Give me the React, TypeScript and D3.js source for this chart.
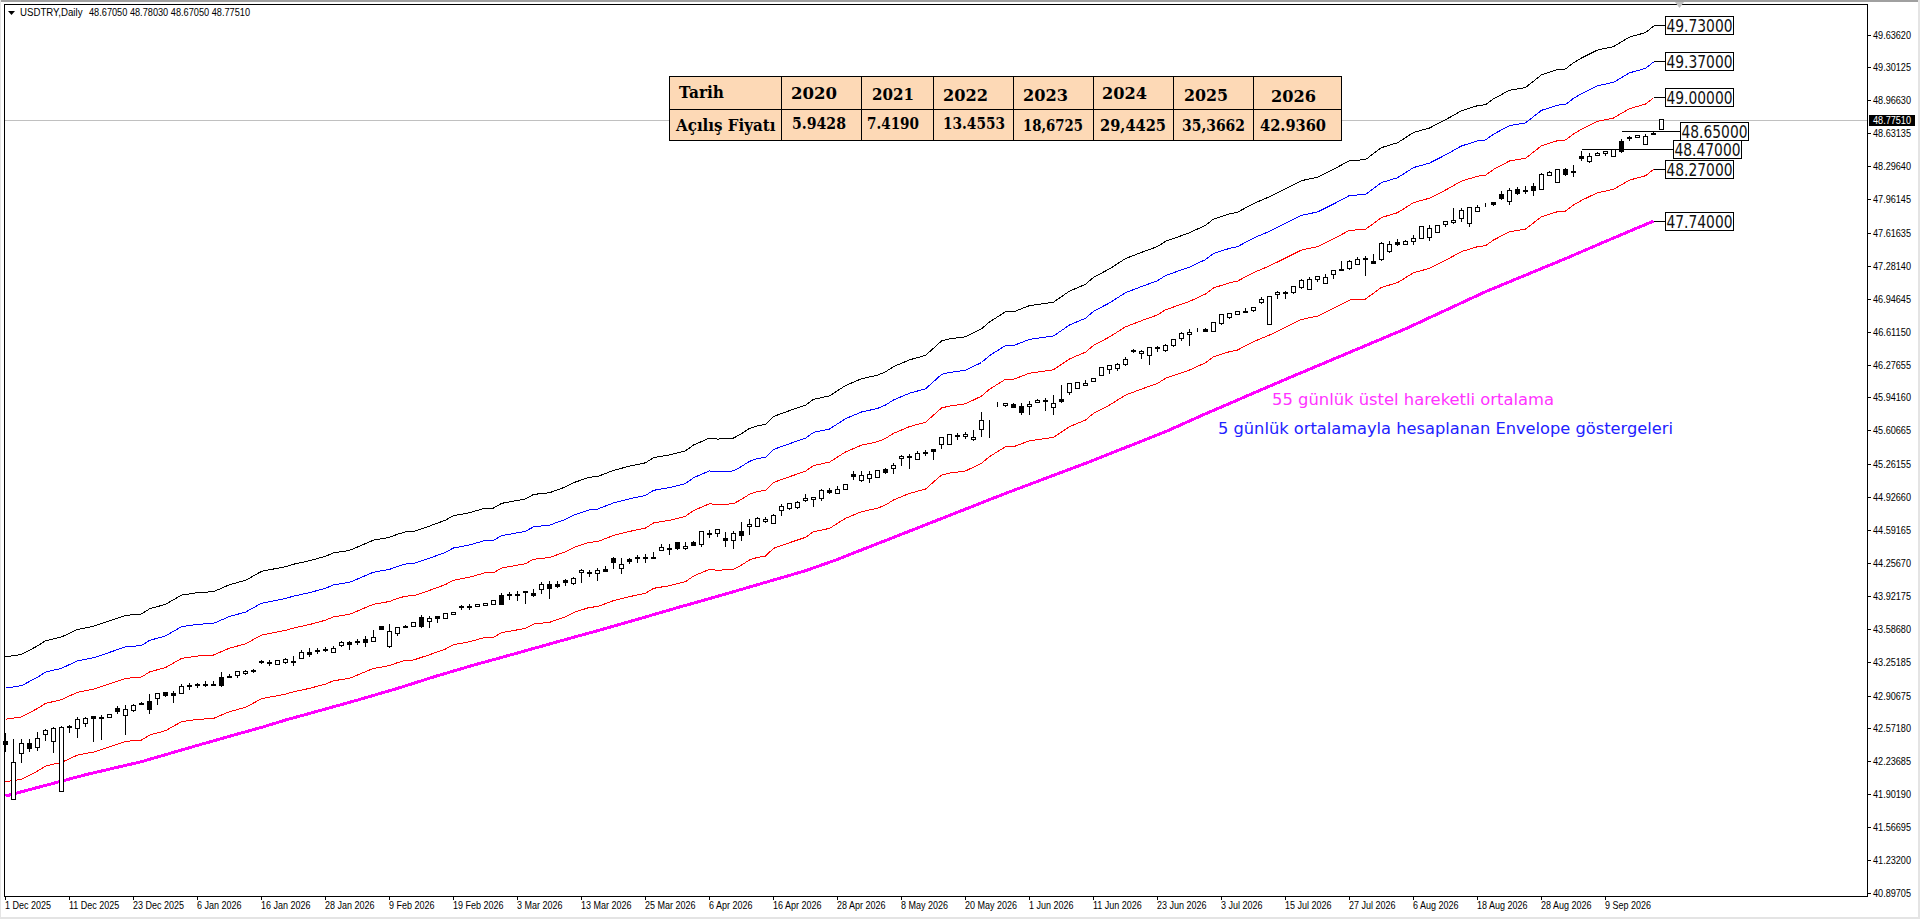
import React from "react";
import * as d3 from "d3";

const opens = [42.44,41.857,42.325,42.423,42.385,42.514,42.446,41.938,42.602,42.579,
42.629,42.694,42.684,42.69,42.782,42.711,42.762,42.833,42.853,42.88,
42.941,42.935,42.935,43.016,43.023,43.026,43.026,43.097,43.111,43.118,
43.135,43.165,43.26,43.25,43.229,43.25,43.257,43.291,43.352,43.375,
43.385,43.352,43.419,43.45,43.467,43.481,43.46,43.61,43.416,43.542,
43.62,43.613,43.708,43.664,43.715,43.698,43.739,43.82,43.823,43.82,
43.83,43.837,43.932,43.939,43.942,43.969,43.952,43.993,44.044,44.047,
44.081,44.054,44.166,44.16,44.156,44.193,44.309,44.204,44.292,44.322,
44.322,44.322,44.39,44.41,44.465,44.407,44.475,44.448,44.563,44.56,
44.512,44.492,44.577,44.634,44.634,44.682,44.665,44.794,44.814,44.831,
44.896,44.909,44.913,45.004,44.97,45.011,45.167,45.099,45.126,45.133,
45.218,45.225,45.327,45.35,45.316,45.388,45.415,45.466,45.469,45.564,
45.551,45.52,45.622,45.666,45.859,45.866,45.876,45.856,45.856,45.9,
45.92,45.842,45.927,45.995,46.039,46.07,46.11,46.168,46.229,46.243,
46.28,46.426,46.395,46.372,46.456,46.429,46.473,46.548,46.585,46.623,
46.636,46.619,46.701,46.765,46.792,46.819,46.83,46.914,46.691,46.993,
47.016,47.013,47.067,47.047,47.149,47.108,47.196,47.25,47.261,47.301,
47.359,47.332,47.352,47.43,47.522,47.505,47.535,47.566,47.576,47.627,
47.705,47.725,47.766,47.719,47.841,47.895,47.936,48.017,47.939,48.068,
48.054,48.095,48.065,48.207,48.136,48.268,48.251,48.404,48.346,48.41,
48.427,48.4,48.553,48.597,48.594,48.523,48.634,48.6705];

const highs = [42.538,42.477,42.477,42.477,42.551,42.578,42.602,42.612,42.619,42.697,
42.697,42.711,42.724,42.731,42.813,42.826,42.833,42.853,42.928,42.935,
42.945,42.965,43.036,43.043,43.05,43.063,43.07,43.162,43.138,43.172,
43.179,43.189,43.28,43.274,43.28,43.301,43.318,43.382,43.406,43.402,
43.413,43.419,43.477,43.474,43.49,43.528,43.586,43.627,43.65,43.613,
43.634,43.657,43.742,43.732,43.732,43.756,43.766,43.844,43.851,43.851,
43.861,43.881,43.963,43.976,43.986,43.986,43.997,44.078,44.088,44.088,
44.102,44.129,44.204,44.2,44.214,44.234,44.332,44.322,44.319,44.353,
44.36,44.377,44.461,44.461,44.475,44.478,44.495,44.597,44.604,44.604,
44.58,44.597,44.682,44.716,44.733,44.733,44.767,44.869,44.879,44.902,
44.964,44.936,45.021,45.031,45.052,45.065,45.2,45.198,45.198,45.215,
45.235,45.282,45.367,45.377,45.411,45.418,45.428,45.547,45.581,45.588,
45.598,45.625,45.808,45.724,45.91,45.897,45.893,45.897,45.92,45.934,
45.947,45.978,46.083,46.097,46.107,46.131,46.151,46.26,46.277,46.3,
46.361,46.446,46.436,46.463,46.48,46.497,46.541,46.623,46.646,46.66,
46.66,46.724,46.803,46.816,46.836,46.86,46.877,46.979,46.989,47.04,
47.033,47.091,47.159,47.182,47.193,47.21,47.244,47.345,47.352,47.379,
47.396,47.413,47.532,47.542,47.566,47.556,47.61,47.698,47.712,47.712,
47.752,47.885,47.881,47.895,47.915,47.936,47.946,48.058,48.085,48.099,
48.109,48.136,48.238,48.261,48.278,48.289,48.322,48.465,48.438,48.451,
48.458,48.478,48.587,48.618,48.628,48.638,48.668,48.7803];

const lows = [42.34,41.85,42.229,42.34,42.351,42.453,42.331,41.938,42.534,42.484,
42.602,42.443,42.463,42.684,42.731,42.511,42.752,42.816,42.728,42.826,
42.901,42.846,42.928,42.975,42.992,43.002,43.012,43.006,43.094,43.094,
43.124,43.145,43.236,43.216,43.226,43.243,43.216,43.287,43.311,43.338,
43.365,43.352,43.409,43.382,43.436,43.41,43.46,43.583,43.4,43.528,
43.6,43.613,43.603,43.6,43.654,43.695,43.735,43.793,43.783,43.817,
43.827,43.837,43.834,43.891,43.878,43.847,43.925,43.946,43.898,44.014,
44.034,44.041,44.061,44.122,44.088,44.173,44.204,44.153,44.258,44.265,
44.268,44.305,44.387,44.346,44.394,44.397,44.438,44.427,44.519,44.529,
44.427,44.404,44.495,44.556,44.631,44.672,44.665,44.74,44.807,44.814,
44.885,44.835,44.896,44.97,44.964,45.008,45.113,45.089,45.079,45.13,
45.177,45.17,45.252,45.221,45.31,45.354,45.31,45.425,45.466,45.523,
45.53,45.513,45.554,45.534,45.852,45.859,45.842,45.774,45.768,45.893,
45.812,45.778,45.9,45.975,46.036,46.066,46.107,46.165,46.192,46.219,
46.273,46.406,46.344,46.287,46.412,46.419,46.467,46.531,46.473,46.616,
46.619,46.616,46.687,46.752,46.789,46.813,46.826,46.898,46.687,46.952,
46.952,47.006,47.057,47.043,47.125,47.104,47.155,47.24,47.25,47.295,
47.186,47.311,47.339,47.427,47.491,47.501,47.5,47.562,47.549,47.624,
47.685,47.715,47.739,47.691,47.837,47.888,47.898,47.966,47.915,48.014,
48.027,48.0,48.061,48.204,48.132,48.21,48.2,48.356,48.336,48.407,
48.414,48.397,48.438,48.567,48.59,48.519,48.621,48.6705];

const closes = [42.41,42.229,42.423,42.375,42.473,42.555,42.575,42.589,42.585,42.67,
42.68,42.677,42.677,42.721,42.748,42.772,42.813,42.823,42.772,42.935,
42.914,42.914,43.009,43.002,43.016,43.019,43.016,43.016,43.097,43.152,
43.162,43.158,43.25,43.24,43.27,43.28,43.25,43.352,43.328,43.362,
43.372,43.392,43.457,43.43,43.453,43.45,43.498,43.583,43.566,43.606,
43.603,43.657,43.613,43.698,43.698,43.749,43.759,43.813,43.81,43.84,
43.851,43.881,43.837,43.932,43.932,43.959,43.929,44.044,44.0,44.027,
44.061,44.105,44.19,44.153,44.19,44.176,44.265,44.248,44.275,44.309,
44.309,44.309,44.421,44.397,44.404,44.431,44.441,44.577,44.556,44.6,
44.492,44.563,44.543,44.655,44.716,44.709,44.74,44.841,44.862,44.879,
44.923,44.926,45.001,44.984,45.011,45.062,45.147,45.153,45.16,45.204,
45.181,45.255,45.347,45.34,45.377,45.377,45.401,45.54,45.571,45.547,
45.571,45.54,45.713,45.659,45.852,45.886,45.846,45.795,45.876,45.92,
45.907,45.886,45.907,46.09,46.1,46.09,46.141,46.253,46.27,46.283,
46.334,46.416,46.412,46.453,46.44,46.48,46.538,46.602,46.609,46.616,
46.623,46.708,46.792,46.806,46.823,46.813,46.864,46.948,46.976,47.016,
47.006,47.077,47.142,47.149,47.176,47.172,47.237,47.24,47.335,47.352,
47.349,47.311,47.515,47.508,47.505,47.535,47.56,47.688,47.668,47.698,
47.739,47.749,47.851,47.881,47.881,47.888,47.909,47.976,48.058,48.027,
48.041,48.051,48.217,48.238,48.268,48.214,48.238,48.383,48.4,48.434,
48.451,48.468,48.451,48.584,48.614,48.607,48.628,48.7751];

const envBars = [0,2,4,5,7,9,11,13,15,17,18,20,22,24,26,28,30,32,35,36,38,40,41,43,44,46,48,49,50,51,53,55,56,58,60,61,62,65,66,68,70,71,73,74,76,78,80,81,83,85,86,88,89,91,92,93,94,95,96,98,100,101,103,105,107,109,110,111,113,115,117,118,120,122,123,125,126,128,131,133,135,136,138,140,142,144,145,148,150,151,153,154,156,158,160,162,164,166,168,170,172,174,176,178,180,182,184,185,186,188,190,192,194,195,196,197,199,201,203,205,206];
const envMid = [42.353,42.377,42.462,42.513,42.551,42.626,42.657,42.711,42.766,42.78,42.831,42.876,42.968,42.992,43.002,43.071,43.115,43.204,43.251,43.275,43.31,43.354,43.388,43.413,43.447,43.515,43.543,43.574,43.597,43.601,43.655,43.714,43.758,43.788,43.834,43.834,43.881,43.925,43.97,43.987,44.045,44.087,44.141,44.148,44.21,44.251,44.285,44.336,44.363,44.404,44.462,44.531,44.521,44.531,44.575,44.627,44.654,44.667,44.746,44.804,44.859,44.917,44.951,45.054,45.122,45.157,45.191,45.242,45.31,45.354,45.498,45.518,45.54,45.618,45.687,45.788,45.788,45.85,45.884,45.994,46.062,46.131,46.216,46.318,46.38,46.438,46.49,46.575,46.65,46.711,46.763,46.78,46.866,46.934,47.013,47.094,47.128,47.207,47.293,47.303,47.423,47.471,47.573,47.618,47.7,47.79,47.84,47.85,47.908,47.994,48.021,48.147,48.199,48.206,48.267,48.315,48.394,48.428,48.523,48.568,48.632];
const envDeviationsPct = [-0.75, 0.75, 1.5, 2.25];
const envColors = ["#ff0000", "#ff0000", "#0000ff", "#000000"];

const emaBars = [0,10,17,24,29,32,35,38,41,44,49,54,59,64,69,74,79,84,89,92,96,100,104,108,110,115,120,125,135,145,150,160,170,175,185,195,200,206];
const emaValues = [41.889,42.106,42.239,42.405,42.52,42.588,42.663,42.73,42.798,42.866,42.985,43.114,43.233,43.345,43.46,43.572,43.688,43.807,43.922,43.993,44.088,44.183,44.298,44.427,44.49,44.65,44.81,44.97,45.276,45.598,45.78,46.131,46.474,46.645,47.023,47.36,47.535,47.742];

const dateLabels = ["1 Dec 2025","11 Dec 2025","23 Dec 2025","6 Jan 2026","16 Jan 2026","28 Jan 2026","9 Feb 2026","19 Feb 2026","3 Mar 2026","13 Mar 2026","25 Mar 2026","6 Apr 2026","16 Apr 2026","28 Apr 2026","8 May 2026","20 May 2026","1 Jun 2026","11 Jun 2026","23 Jun 2026","3 Jul 2026","15 Jul 2026","27 Jul 2026","6 Aug 2026","18 Aug 2026","28 Aug 2026","9 Sep 2026"];
const dateTickStep = 8;
const priceTicks = ["49.63620","49.30125","48.96630","48.63135","48.29640","47.96145","47.61635","47.28140","46.94645","46.61150","46.27655","45.94160","45.60665","45.26155","44.92660","44.59165","44.25670","43.92175","43.58680","43.25185","42.90675","42.57180","42.23685","41.90190","41.56695","41.23200","40.89705"];

const currentPrice = "48.77510";
const headerSymbol = "USDTRY,Daily";
const headerPrices = "48.67050 48.78030 48.67050 48.77510";
const boxLabels = ["49.73000","49.37000","49.00000","48.65000","48.47000","48.27000","47.74000"];
const boxLeft = [1665,1665,1665,1680,1673,1665,1665];
const boxLineStart = [1653.5,1653.5,1653.5,1621.5,1581.5,1653.5,1653.5];

const tableHeadLabel = "Tarih";
const tableRowLabel = "Açılış Fiyatı";
const tableYears = ["2020","2021","2022","2023","2024","2025","2026"];
const tableOpens = ["5.9428","7.4190","13.4553","18,6725","29,4425","35,3662","42.9360"];
const colEdges = [669.5,781.5,861.5,933.5,1013.5,1093.5,1173.5,1253.5,1341.5];
const yearCellX = [[791,46],[872,42],[943,45],[1023,45],[1102,45],[1184,44],[1271,45]];
const yearBase = [99,100,101,101,99,101,102];
const openCellX = [[792,54],[867,52],[943,62],[1023,60],[1100,66],[1182,63],[1260,66]];
const openBase = [129,129,129,131,131,131,131];

const W = 1920, H = 919;
const left = 4.5, right = 1867.5, top = 4.5, bottom = 896.5;
const x = d3.scaleLinear().domain([0, 207]).range([5.5, 5.5 + 8 * 207]);
const y = d3.scaleLinear().domain([40.89705, 49.6362]).range([893.5, 35]);
const snap = (v: number) => Math.round(v - 0.5) + 0.5;

const envLine = d3.line<number>().x((_, i) => x(envBars[i])).y((d) => y(d));
const emaLine = d3.line<number>().x((_, i) => x(emaBars[i])).y((d) => y(d));

const axisFont = "'Liberation Sans', sans-serif";
const tableFont = "'DejaVu Serif', serif";

export default function App() {
  return (
    <svg width={W} height={H} viewBox={`0 0 ${W} ${H}`} style={{ position: "absolute", left: 0, top: 0, display: "block", background: "#fff" }}>
      <rect x={0} y={0} width={W} height={2} fill="#a0a0a0" />
      <rect x={0} y={917} width={W} height={2} fill="#e4e4e4" />
      <rect x={0} y={0} width={1} height={H} fill="#e4e4e4" />
      <rect x={1918} y={0} width={2} height={H} fill="#e4e4e4" />

      <line x1={left} x2={right} y1={120.5} y2={120.5} stroke="#c0c0c0" />

      {/* Envelope lines and EMA */}
      <g fill="none" shapeRendering="crispEdges">
        {envDeviationsPct.map((d, k) => (
          <path key={k} d={envLine(envMid.map((m) => m * (1 + d / 100))) ?? ""} stroke={envColors[k]} strokeWidth={1} />
        ))}
        <path d={emaLine(emaValues) ?? ""} stroke="#ff00ff" strokeWidth={3} />
      </g>

      {/* Candles */}
      <g shapeRendering="crispEdges">
        {opens.map((o, i) => {
          const c = closes[i];
          const yTop = snap(y(Math.max(o, c)));
          const yBot = snap(y(Math.min(o, c)));
          const isDown = c < o;
          return (
            <g key={i}>
              <line x1={x(i)} x2={x(i)} y1={snap(y(highs[i]))} y2={snap(y(lows[i]))} stroke="#000" />
              <rect x={x(i) - 2} y={yTop} width={4} height={Math.max(yBot - yTop, 0)} fill={isDown ? "#000" : "#fff"} stroke="#000" />
            </g>
          );
        })}
      </g>

      {/* Level boxes */}
      <g>
        {boxLabels.map((t, k) => {
          const v = +t;
          const yy = snap(y(v));
          const bx = boxLeft[k];
          return (
            <g key={t}>
              <line x1={boxLineStart[k]} x2={bx} y1={yy} y2={yy} stroke="#000" shapeRendering="crispEdges" />
              <rect x={bx + 0.5} y={yy - 9} width={68} height={18} fill="#fff" stroke="#000" shapeRendering="crispEdges" />
              <text x={bx + 1.5} y={yy + 6.5} fontFamily="'DejaVu Sans', sans-serif" fontSize={17.5} fill="#111" textLength={66} lengthAdjust="spacingAndGlyphs">{t}</text>
            </g>
          );
        })}
      </g>

      {/* Frame */}
      <path d={`M${left},${bottom}V${top}H${right}V${bottom}H${left}`} fill="none" stroke="#000" shapeRendering="crispEdges" />
      <path d="M1675,2 L1684,2 L1679.5,8 Z" fill="#c0c0c0" />

      {/* Price axis */}
      <g fontFamily={axisFont} fontSize={10} fill="#000">
        {priceTicks.map((t) => {
          const py = y(+t);
          return (
            <g key={t}>
              <line x1={right} x2={1871} y1={snap(py)} y2={snap(py)} stroke="#000" shapeRendering="crispEdges" />
              <text x={1873} y={py + 3.5} textLength={38} lengthAdjust="spacingAndGlyphs">{t}</text>
            </g>
          );
        })}
      </g>
      <rect x={1869} y={115} width={46} height={11} fill="#000" />
      <text x={1873} y={124} fontFamily={axisFont} fontSize={10} fill="#fff" textLength={38} lengthAdjust="spacingAndGlyphs">{currentPrice}</text>

      {/* Date axis */}
      <g fontFamily={axisFont} fontSize={10} fill="#000">
        {dateLabels.map((t, k) => {
          const tx = x(k * dateTickStep);
          return (
            <g key={t}>
              <line x1={tx} x2={tx} y1={bottom} y2={900} stroke="#000" shapeRendering="crispEdges" />
              <text transform={`translate(${tx - 0.5},909) scale(0.9,1)`}>{t}</text>
            </g>
          );
        })}
      </g>

      {/* Header */}
      <path d="M8,11 L15,11 L11.5,15 Z" fill="#000" />
      <text x={20} y={16} fontFamily={axisFont} fontSize={10} fill="#000" textLength={62.5} lengthAdjust="spacingAndGlyphs">{headerSymbol}</text>
      <text x={89} y={16} fontFamily={axisFont} fontSize={10} fill="#000" textLength={161} lengthAdjust="spacingAndGlyphs">{headerPrices}</text>

      {/* Notes */}
      <text x={1272} y={405} fontFamily="'DejaVu Sans', sans-serif" fontSize={15} fill="#ff33ff" textLength={282} lengthAdjust="spacingAndGlyphs">55 günlük üstel hareketli ortalama</text>
      <text x={1218} y={434} fontFamily="'DejaVu Sans', sans-serif" fontSize={15} fill="#2222ff" textLength={455} lengthAdjust="spacingAndGlyphs">5 günlük ortalamayla hesaplanan Envelope göstergeleri</text>

      {/* Table */}
      <g>
        <rect x={colEdges[0]} y={76.5} width={colEdges[8] - colEdges[0]} height={64} fill="#fdd9b6" stroke="#000" shapeRendering="crispEdges" />
        <line x1={colEdges[0]} x2={colEdges[8]} y1={109.5} y2={109.5} stroke="#000" shapeRendering="crispEdges" />
        {colEdges.slice(1, 8).map((e) => (
          <line key={e} x1={e} x2={e} y1={76} y2={140.5} stroke="#000" shapeRendering="crispEdges" />
        ))}
        <g fontFamily={tableFont} fontWeight="bold" fontSize={16} fill="#000">
          <text x={679} y={98} textLength={45} lengthAdjust="spacingAndGlyphs">{tableHeadLabel}</text>
          <text x={676} y={131} textLength={99.5} lengthAdjust="spacingAndGlyphs">{tableRowLabel}</text>
          {tableYears.map((t, k) => (
            <text key={t} x={yearCellX[k][0]} y={yearBase[k]} textLength={yearCellX[k][1]} lengthAdjust="spacingAndGlyphs">{t}</text>
          ))}
          {tableOpens.map((t, k) => (
            <text key={t} x={openCellX[k][0]} y={openBase[k]} textLength={openCellX[k][1]} lengthAdjust="spacingAndGlyphs">{t}</text>
          ))}
        </g>
      </g>
    </svg>
  );
}
